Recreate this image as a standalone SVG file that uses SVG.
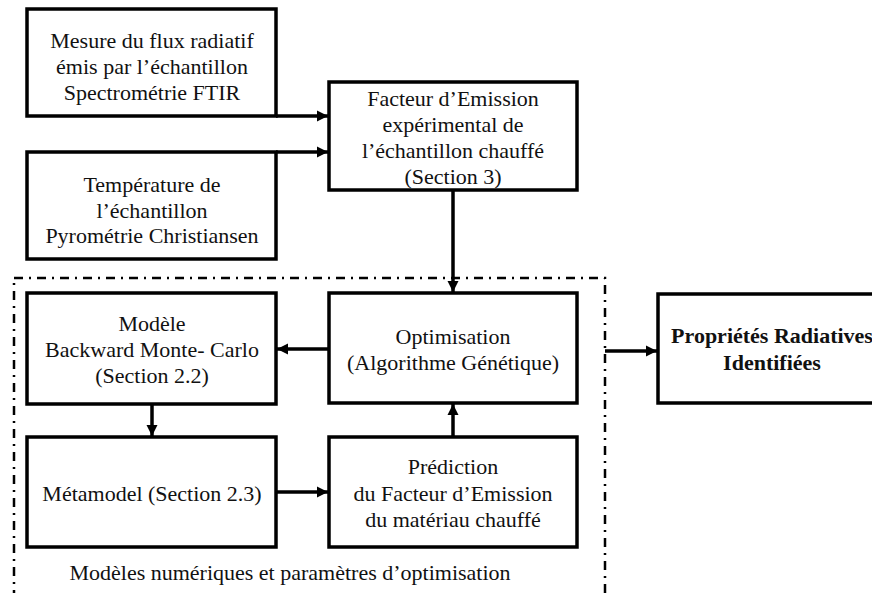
<svg xmlns="http://www.w3.org/2000/svg" width="872" height="593" viewBox="0 0 872 593">
<style>
.box{fill:#fff;stroke:#000;stroke-width:3.5}
.t{font-family:"Liberation Serif","Times New Roman",serif;font-size:22px;fill:#111;text-anchor:middle}
.b{font-weight:bold}
.c{stroke:#000;stroke-width:3.5;fill:none;marker-end:url(#ah)}
.frame{fill:none;stroke:#000;stroke-width:2.5;stroke-dasharray:9 6 2 6}
</style>
<defs>
<marker id="ah" viewBox="0 0 10 10" refX="10" refY="5" markerWidth="3.2" markerHeight="3.2" orient="auto" markerUnits="strokeWidth">
<path d="M0,0 L10,5 L0,10 z" fill="#000"/>
</marker>
</defs>
<rect width="872" height="593" fill="#fff"/>
<rect class="frame" x="14" y="278" width="591" height="340"/>
<g id="n1">
<rect class="box" x="27" y="9" width="249" height="107"/>
<text class="t" x="152" y="48">Mesure du flux radiatif</text>
<text class="t" x="152" y="74">émis par l’échantillon</text>
<text class="t" x="152" y="100">Spectrométrie FTIR</text>
</g>
<g id="n2">
<rect class="box" x="27" y="152" width="249" height="107"/>
<text class="t" x="152" y="192">Température de</text>
<text class="t" x="152" y="218">l’échantillon</text>
<text class="t" x="152" y="243">Pyrométrie Christiansen</text>
</g>
<g id="n3">
<rect class="box" x="329" y="82" width="248" height="108"/>
<text class="t" x="453" y="106">Facteur d’Emission</text>
<text class="t" x="453" y="132">expérimental de</text>
<text class="t" x="453" y="158">l’échantillon chauffé</text>
<text class="t" x="453" y="184">(Section 3)</text>
</g>
<g id="n4">
<rect class="box" x="27" y="293" width="249" height="111"/>
<text class="t" x="152" y="331">Modèle</text>
<text class="t" x="152" y="357">Backward Monte- Carlo</text>
<text class="t" x="152" y="383">(Section 2.2)</text>
</g>
<g id="n5">
<rect class="box" x="329" y="293" width="248" height="110"/>
<text class="t" x="453" y="344">Optimisation</text>
<text class="t" x="453" y="370">(Algorithme Génétique)</text>
</g>
<g id="n6">
<rect class="box" x="27" y="437" width="249" height="110"/>
<text class="t" x="152" y="501">Métamodel (Section 2.3)</text>
</g>
<g id="n7">
<rect class="box" x="329" y="437" width="248" height="110"/>
<text class="t" x="453" y="474">Prédiction</text>
<text class="t" x="453" y="501">du Facteur d’Emission</text>
<text class="t" x="453" y="527">du matériau chauffé</text>
</g>
<g id="n8">
<rect class="box" x="658" y="294" width="228" height="109"/>
<text class="t b" x="772" y="343">Propriétés Radiatives</text>
<text class="t b" x="772" y="370">Identifiées</text>
</g>
<g id="frame-label">
<text class="t" x="290" y="580">Modèles numériques et paramètres d’optimisation</text>
</g>
<g id="connectors">
<line class="c" x1="276" y1="116" x2="328" y2="116"/>
<line class="c" x1="276" y1="152" x2="328" y2="152"/>
<line class="c" x1="453" y1="190" x2="453" y2="292"/>
<line class="c" x1="329" y1="349" x2="277" y2="349"/>
<line class="c" x1="152" y1="404" x2="152" y2="436"/>
<line class="c" x1="276" y1="492" x2="328" y2="492"/>
<line class="c" x1="453" y1="437" x2="453" y2="404"/>
<line class="c" x1="605" y1="351" x2="657" y2="351"/>
</g>
</svg>
